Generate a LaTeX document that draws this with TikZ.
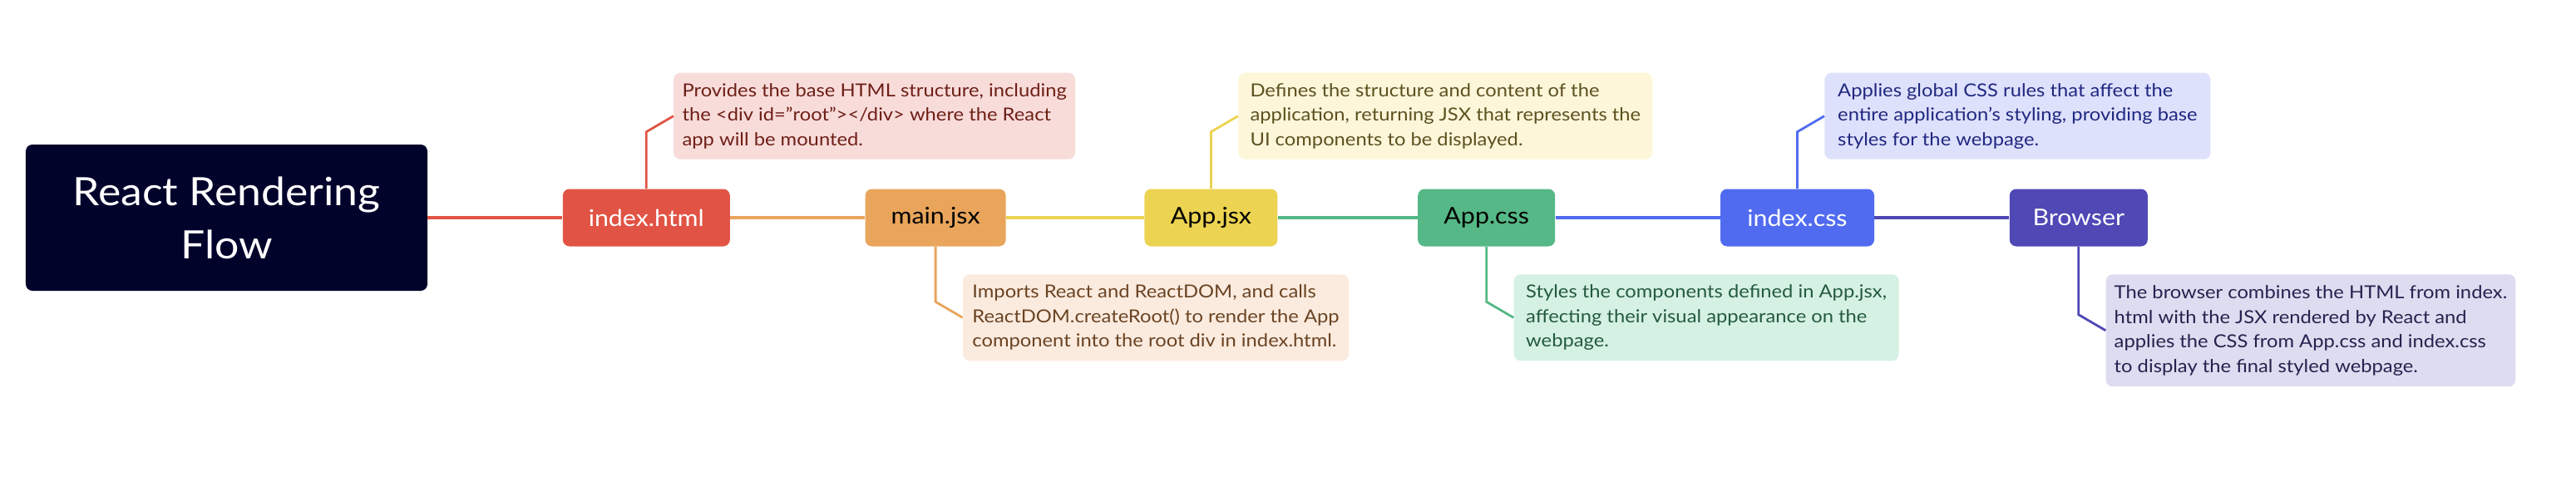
\documentclass[tikz,border=0pt]{standalone}
\usepackage{fontspec}
\setmainfont{Lato}[FakeStretch=1.1]
\usetikzlibrary{positioning,calc}
\definecolor{navy}{HTML}{02032B}
\definecolor{htmlred}{HTML}{E15445}
\definecolor{jsxorange}{HTML}{E9A55C}
\definecolor{appyellow}{HTML}{ECD351}
\definecolor{cssgreen}{HTML}{55B886}
\definecolor{idxblue}{HTML}{516BF0}
\definecolor{webpurple}{HTML}{4F48B5}
\definecolor{htmlnotebg}{HTML}{F8DCDA}
\definecolor{jsxnotebg}{HTML}{FBEBDF}
\definecolor{appnotebg}{HTML}{FDF6D9}
\definecolor{cssnotebg}{HTML}{D5F1E3}
\definecolor{idxnotebg}{HTML}{DEE1FC}
\definecolor{webnotebg}{HTML}{DEDCF0}
\definecolor{htmlnotefg}{HTML}{6E1F16}
\definecolor{jsxnotefg}{HTML}{6A4322}
\definecolor{appnotefg}{HTML}{5C5120}
\definecolor{cssnotefg}{HTML}{245A3F}
\definecolor{idxnotefg}{HTML}{202880}
\definecolor{webnotefg}{HTML}{26224F}
\begin{document}
\begin{tikzpicture}[
     node distance=81pt,
    rootbox/.style={fill=navy, text=white, rounded corners=4pt, align=center,
                    minimum width=241.5pt, minimum height=88pt,
                    font=\fontsize{23.5}{32}\selectfont},
    filebox/.style={rounded corners=4pt, minimum height=34.5pt,
                    font=\fontsize{13.8}{16}\selectfont},
    notebox/.style={rounded corners=4pt, inner xsep=5pt, inner ysep=0pt,
                    minimum height=52pt, align=left,
                    font=\fontsize{10.8}{14.75}\selectfont},
    trunk/.style={line width=2.2pt},
    twig/.style={line width=1.4pt}
]
\useasboundingbox (-136.25pt,-158pt) rectangle (1412.75pt,131pt);

\node (head) [rootbox] {React Rendering\\Flow};
\node (html) [filebox, fill=htmlred, text=white, minimum width=100.5pt, right=of head] {index.html};
\node (mainjsx) [filebox, fill=jsxorange, text=black, minimum width=84.5pt, right=of html] {main.jsx};
\node (appjsx) [filebox, fill=appyellow, text=black, minimum width=80pt, right=83pt of mainjsx] {App.jsx};
\node (appcss) [filebox, fill=cssgreen, text=black, minimum width=82.5pt, right=84pt of appjsx] {App.css};
\node (idxcss) [filebox, fill=idxblue, text=white, minimum width=92.5pt, right=99pt of appcss] {index.css};
\node (browser) [filebox, fill=webpurple, text=white, minimum width=83pt, right=of idxcss] {Browser};

\node (htmlnote) [notebox, fill=htmlnotebg, text=htmlnotefg, minimum width=241.5pt,
    above right=17.5pt and 16.25pt of html.north]
    {Provides the base HTML structure, including\\the <div id="root"></div> where the React\\app will be mounted.};
\node (mainnote) [notebox, fill=jsxnotebg, text=jsxnotefg, minimum width=232pt,
    below right=16.5pt and 16.25pt of mainjsx.south]
    {Imports React and ReactDOM, and calls\\ReactDOM.createRoot() to render the App\\component into the root div in index.html.};
\node (appnote) [notebox, fill=appnotebg, text=appnotefg, minimum width=249pt,
    above right=17.5pt and 16.25pt of appjsx.north]
    {Defines the structure and content of the\\application, returning JSX that represents the\\UI components to be displayed.};
\node (cssnote) [notebox, fill=cssnotebg, text=cssnotefg, minimum width=231.5pt,
    below right=16.5pt and 16.25pt of appcss.south]
    {Styles the components defined in App.jsx,\\affecting their visual appearance on the\\webpage.};
\node (idxnote) [notebox, fill=idxnotebg, text=idxnotefg, minimum width=232pt,
    above right=17.5pt and 16.25pt of idxcss.north]
    {Applies global CSS rules that affect the\\entire application's styling, providing base\\styles for the webpage.};
\node (webnote) [notebox, fill=webnotebg, text=webnotefg, minimum width=243.5pt, minimum height=67.5pt,
    below right=16.5pt and 16.25pt of browser.south]
    {The browser combines the HTML from index.\\html with the JSX rendered by React and\\applies the CSS from App.css and index.css\\to display the final styled webpage.};

\draw [trunk, htmlred] (head) -- (html);
\draw [trunk, jsxorange] (html) -- (mainjsx);
\draw [trunk, appyellow] (mainjsx) -- (appjsx);
\draw [trunk, cssgreen] (appjsx) -- (appcss);
\draw [trunk, idxblue] (appcss) -- (idxcss);
\draw [trunk, webpurple] (idxcss) -- (browser);

\draw [twig, htmlred] (html.north) -- ($(html.north |- htmlnote.west)+(0,-9.5pt)$) -- (htmlnote.west);
\draw [twig, jsxorange] (mainjsx.south) -- ($(mainjsx.south |- mainnote.west)+(0,9.5pt)$) -- (mainnote.west);
\draw [twig, appyellow] (appjsx.north) -- ($(appjsx.north |- appnote.west)+(0,-9.5pt)$) -- (appnote.west);
\draw [twig, cssgreen] (appcss.south) -- ($(appcss.south |- cssnote.west)+(0,9.5pt)$) -- (cssnote.west);
\draw [twig, idxblue] (idxcss.north) -- ($(idxcss.north |- idxnote.west)+(0,-9.5pt)$) -- (idxnote.west);
\draw [twig, webpurple] (browser.south) -- ($(browser.south |- webnote.west)+(0,9.5pt)$) -- (webnote.west);
\end{tikzpicture}
\end{document}
